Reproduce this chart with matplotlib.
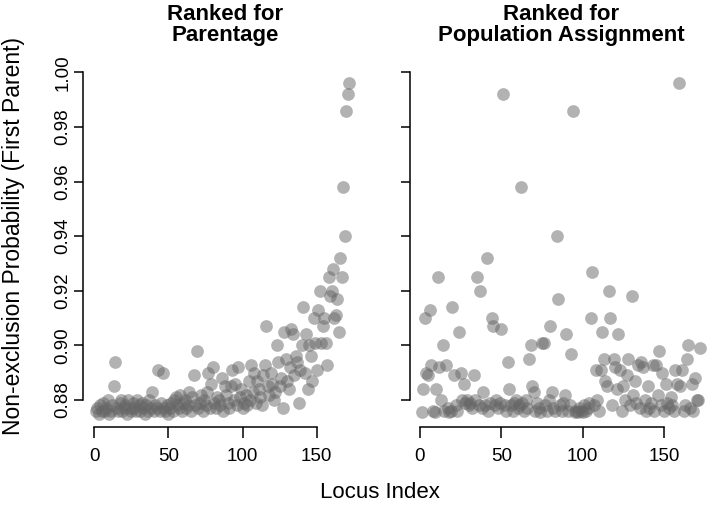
import numpy as np
import matplotlib
matplotlib.use("Agg")
import matplotlib.pyplot as plt

plt.rcParams['font.family'] = ['Liberation Sans', 'DejaVu Sans']

# non-exclusion probability per locus, left panel (ranked for parentage)
parentage = [
    0.876, 0.877, 0.875, 0.878, 0.876, 0.879, 0.876, 0.877, 0.880, 0.875,
    0.876, 0.878, 0.885, 0.894, 0.877, 0.876, 0.879, 0.880, 0.876, 0.877,
    0.878, 0.875, 0.880, 0.877, 0.876, 0.879, 0.877, 0.876, 0.880, 0.878,
    0.876, 0.879, 0.877, 0.875, 0.878, 0.876, 0.880, 0.877, 0.883, 0.876,
    0.878, 0.877, 0.891, 0.876, 0.879, 0.890, 0.877, 0.876, 0.878, 0.875,
    0.877, 0.879, 0.876, 0.880, 0.881, 0.878, 0.877, 0.882, 0.876, 0.879,
    0.880, 0.877, 0.878, 0.883, 0.876, 0.881, 0.889, 0.878, 0.898, 0.877,
    0.879, 0.882, 0.876, 0.880, 0.878, 0.883, 0.890, 0.877, 0.886, 0.892,
    0.879, 0.877, 0.881, 0.880, 0.878, 0.888, 0.876, 0.885, 0.882, 0.879,
    0.877, 0.885, 0.891, 0.880, 0.886, 0.878, 0.892, 0.881, 0.884, 0.877,
    0.879, 0.882, 0.878, 0.887, 0.880, 0.893, 0.883, 0.890, 0.879, 0.887,
    0.884, 0.881, 0.878, 0.889, 0.893, 0.907, 0.885, 0.882, 0.890, 0.886,
    0.880, 0.883, 0.900, 0.894, 0.885, 0.888, 0.877, 0.905, 0.895, 0.887,
    0.884, 0.892, 0.906, 0.904, 0.889, 0.896, 0.894, 0.879, 0.891, 0.900,
    0.914, 0.890, 0.904, 0.884, 0.900, 0.896, 0.887, 0.910, 0.901, 0.891,
    0.913, 0.920, 0.901, 0.907, 0.910, 0.901, 0.893, 0.925, 0.918, 0.920,
    0.928, 0.910, 0.911, 0.917, 0.905, 0.932, 0.925, 0.958, 0.940, 0.986,
    0.992, 0.996,
]

# right panel (ranked for population assignment)
assignment = [
    0.8755, 0.884, 0.910, 0.890, 0.889, 0.913, 0.893, 0.876, 0.8755, 0.884,
    0.925, 0.892, 0.880, 0.900, 0.876, 0.893, 0.877, 0.8755, 0.876, 0.914,
    0.889, 0.878, 0.876, 0.905, 0.890, 0.880, 0.886, 0.879, 0.880, 0.878,
    0.879, 0.877, 0.889, 0.880, 0.925, 0.878, 0.920, 0.877, 0.883, 0.878,
    0.932, 0.876, 0.879, 0.910, 0.907, 0.878, 0.880, 0.877, 0.879, 0.906,
    0.992, 0.878, 0.876, 0.894, 0.884, 0.878, 0.876, 0.879, 0.880, 0.877,
    0.878, 0.958, 0.879, 0.876, 0.880, 0.877, 0.895, 0.900, 0.885, 0.883,
    0.876, 0.879, 0.877, 0.8755, 0.901, 0.901, 0.878, 0.876, 0.880, 0.907,
    0.883, 0.877, 0.876, 0.940, 0.917, 0.878, 0.876, 0.879, 0.882, 0.904,
    0.876, 0.878, 0.897, 0.986, 0.8755, 0.876, 0.8755, 0.877, 0.876, 0.8755,
    0.878, 0.876, 0.877, 0.879, 0.910, 0.927, 0.878, 0.891, 0.880, 0.876,
    0.891, 0.905, 0.895, 0.887, 0.885, 0.920, 0.910, 0.878, 0.895, 0.892,
    0.884, 0.904, 0.891, 0.876, 0.885, 0.880, 0.889, 0.895, 0.878, 0.918,
    0.882, 0.887, 0.879, 0.893, 0.877, 0.894, 0.892, 0.880, 0.876, 0.885,
    0.877, 0.879, 0.893, 0.876, 0.893, 0.882, 0.898, 0.878, 0.890, 0.876,
    0.886, 0.879, 0.877, 0.881, 0.878, 0.876, 0.891, 0.886, 0.996, 0.885,
    0.891, 0.876, 0.878, 0.895, 0.900, 0.877, 0.886, 0.876, 0.888, 0.880,
    0.880, 0.899,
]

titles = ["Ranked for\nParentage", "Ranked for\nPopulation Assignment"]
xticks = [0, 50, 100, 150]
yticks = [0.88, 0.90, 0.92, 0.94, 0.96, 0.98, 1.00]

W, H = 709, 507
fig = plt.figure(figsize=(W / 100, H / 100), dpi=100)


def px_axes(left, right, top, bottom):
    return fig.add_axes([left / W, 1 - bottom / H, (right - left) / W, (bottom - top) / H])


ax1 = px_axes(83.3, 360, 60, 427.3)
ax2 = px_axes(409.5, 709, 60, 427.3)
panels = [(ax1, parentage, (-7.42, 179.2), 225),
          (ax2, assignment, (-6.4, 177.6), 561)]

for i, (ax, vals, xl, tx) in enumerate(panels):
    idx = np.arange(1, len(vals) + 1)
    ax.scatter(idx, vals, s=84, color='#666666', alpha=0.5, linewidths=0, clip_on=False)
    ax.set_xlim(*xl)
    ax.set_ylim(0.870, 1.00454)
    ax.spines['top'].set_visible(False)
    ax.spines['right'].set_visible(False)
    ax.spines['left'].set_bounds(0.88, 1.00)
    ax.spines['bottom'].set_bounds(0, 150)
    for s in ('left', 'bottom'):
        ax.spines[s].set_linewidth(1.1)
    ax.set_xticks(xticks)
    ax.set_xticklabels([str(t) for t in xticks])
    ax.set_yticks(yticks)
    ax.set_yticklabels(['%.2f' % t for t in yticks], rotation=90, va='center')
    ax.tick_params(axis='x', length=8, width=1.1, labelsize=13.5, pad=7)
    ax.tick_params(axis='y', length=6.5, width=1.1, labelsize=13.5, pad=2)
    if i == 1:
        ax.tick_params(axis='y', labelleft=False)
    ax.patch.set_alpha(0)
    fig.text(tx / W, 1 - 4 / H, titles[i], ha='center', va='top',
             fontsize=16, fontweight='bold', linespacing=1.02)

fig.text(14 / W, 1 - 236 / H, "Non-exclusion Probability (First Parent)",
         rotation=90, ha='center', va='center', fontsize=16.5)
fig.text(380 / W, 1 - 493 / H, "Locus Index", ha='center', va='center', fontsize=16)

fig.savefig("out.png", dpi=100)
